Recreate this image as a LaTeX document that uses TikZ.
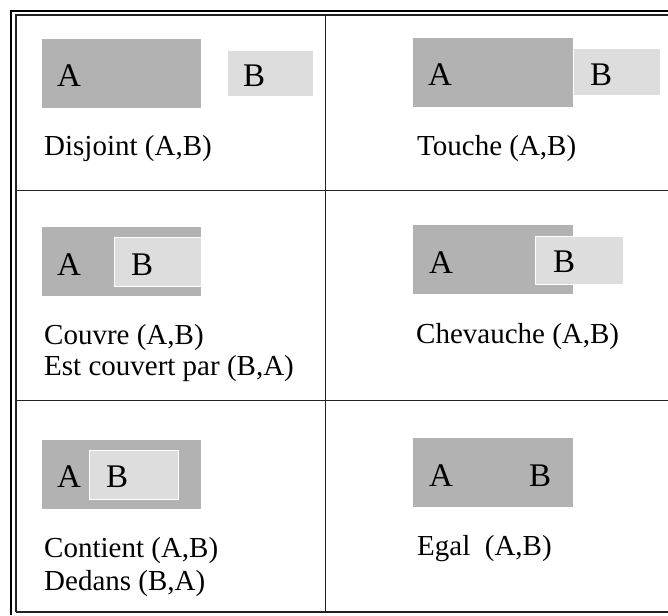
\documentclass[tikz,border=0pt]{standalone}
\usepackage{fontspec}
\setmainfont{Liberation Serif}
\definecolor{gA}{HTML}{B2B2B2}
\definecolor{gB}{HTML}{DDDDDD}
\definecolor{ln}{HTML}{222222}
\tikzset{
  rectA/.style={fill=gA, draw=none, inner sep=0pt, outer sep=0pt, anchor=north west},
  rectB/.style={fill=gB, draw=white, line width=1pt, inner sep=0pt, outer sep=0pt, anchor=north west},
  lbl/.style={font=\fontsize{33}{33}\selectfont, inner sep=0pt, anchor=base west},
  txt/.style={font=\fontsize{29}{31}\selectfont, inner sep=0pt, anchor=base west},
  outerline/.style={draw=black, line width=2.4pt},
  gridline/.style={draw=ln, line width=1.8pt}
}
\begin{document}
\begin{tikzpicture}[x=1pt,y=-1pt]
\useasboundingbox (0,0) rectangle (668,615);
% frame
\coordinate (otl) at (10,10.8);
\coordinate (otr) at (668,10.8);
\coordinate (oltop) at (11.2,9.6);
\coordinate (olbot) at (11.2,615);
\draw[outerline] (otl) -- (otr);
\draw[outerline] (oltop) -- (olbot);
\coordinate (itl) at (16,15);
\coordinate (itr) at (668,15);
\coordinate (ibl) at (16,612);
\coordinate (ibr) at (668,612);
\draw[gridline] (itr) -- (itl) -- (ibl);
\draw[gridline, line width=2.2pt] (ibl) -- (ibr);
\coordinate (vt) at (325.5,15);
\coordinate (vb) at (325.5,612);
\draw[gridline] (vt) -- (vb);
\coordinate (h1l) at (16,190.5);
\coordinate (h1r) at (668,190.5);
\coordinate (h2l) at (16,400.5);
\coordinate (h2r) at (668,400.5);
\draw[gridline] (h1l) -- (h1r);
\draw[gridline] (h2l) -- (h2r);

% cell 1: Disjoint
\node[rectA, minimum width=159pt, minimum height=69pt] (A1) at (42,39) {};
\node[rectB, minimum width=85.5pt, minimum height=46pt] (B1) at (227.5,50.5) {};
\node[lbl] (la1) at (57,87) {A};
\node[lbl] (lb1) at (243,87) {B};
\node[txt] (t1) at (44,155) {Disjoint (A,B)};

% cell 2: Touche
\node[rectA, minimum width=159.4pt, minimum height=69pt] (A2) at (413.3,37.7) {};
\node[rectB, minimum width=87pt, minimum height=47pt] (B2) at (573.5,48.5) {};
\node[lbl] (la2) at (428,86) {A};
\node[lbl] (lb2) at (590,86) {B};
\node[txt] (t2) at (417,155) {Touche (A,B)};

% cell 3: Couvre
\node[rectA, minimum width=159.6pt, minimum height=69.3pt] (A3) at (41.7,226.7) {};
\node[rectB, minimum width=87pt, minimum height=49pt] (B3) at (114.5,237) {};
\node[lbl] (la3) at (57,275) {A};
\node[lbl] (lb3) at (131,275) {B};
\node[txt] (t3a) at (44,344) {Couvre (A,B)};
\node[txt] (t3b) at (44,375) {Est couvert par (B,A)};

% cell 4: Chevauche
\node[rectA, minimum width=159.4pt, minimum height=69.3pt] (A4) at (413.3,225) {};
\node[rectB, minimum width=87.5pt, minimum height=48pt] (B4) at (535.5,236) {};
\node[lbl] (la4) at (429,273) {A};
\node[lbl] (lb4) at (553,272) {B};
\node[txt] (t4) at (416,343) {Chevauche (A,B)};

% cell 5: Contient
\node[rectA, minimum width=159.6pt, minimum height=68.7pt] (A5) at (41.7,440) {};
\node[rectB, minimum width=89pt, minimum height=49.5pt] (B5) at (89.5,450) {};
\node[lbl] (la5) at (57,487) {A};
\node[lbl] (lb5) at (106,487) {B};
\node[txt] (t5a) at (44,557) {Contient (A,B)};
\node[txt] (t5b) at (44,590) {Dedans (B,A)};

% cell 6: Egal
\node[rectA, minimum width=159.4pt, minimum height=69pt] (A6) at (413.3,438.3) {};
\node[lbl] (la6) at (429,486) {A};
\node[lbl] (lb6) at (529,486) {B};
\node[txt] (t6) at (417,555) {Egal\ \ (A,B)};
\end{tikzpicture}
\end{document}
